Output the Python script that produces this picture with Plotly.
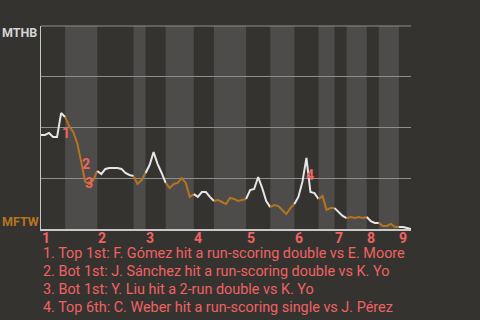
import plotly.graph_objects as go

away_team = "MTHB"
home_team = "MFTW"

# Away-team win probability (%) before the first PA, then after each PA per half-inning
start_wp = 46.3
half_innings = [
    [46.3, 47.3, 45.3, 45.3, 57.1, 55.2],                    # Top 1
    [50.7, 47.8, 42.4, 33.0, 23.2, 22.2, 24.1, 28.6],        # Bot 1
    [27.1, 29.6, 30.0, 30.0, 30.0, 29.6, 27.6, 26.6, 26.1],  # Top 2
    [22.2, 24.1, 27.6],                                      # Bot 2
    [31.5, 37.9, 32.0, 27.6, 22.7],                          # Top 3
    [20.2, 22.2, 22.7, 25.1, 22.7, 15.8, 17.2],              # Bot 3
    [15.8, 18.2, 18.2, 15.8, 13.8],                          # Top 4
    [14.3, 13.3, 12.3, 15.3, 14.8, 13.8, 14.3, 14.8],        # Bot 4
    [19.2, 19.7, 25.6, 20.2, 13.8, 10.8],                    # Top 5
    [11.8, 11.3, 9.4, 7.4, 10.3, 12.3],                      # Bot 5
    [15.8, 23.2, 35.0, 18.2, 17.7, 14.8],                    # Top 6
    [16.3, 9.4, 10.3, 10.3],                                 # Bot 6
    [8.4, 6.4, 5.4],                                         # Top 7
    [5.9, 5.4, 5.9, 5.4, 5.9],                               # Bot 7
    [3.9, 3.0, 3.0],                                         # Top 8
    [1.5, 1.5, 2.5, 1.0, 1.0],                               # Bot 8
    [1.0, 0.5, 0.0],                                         # Top 9
]
inning_labels = ["1", "2", "3", "4", "5", "6", "7", "8", "9"]

# Key events: marker label, position (PA index, win prob %), description
event_labels = ["1", "2", "3", "4"]
event_x = [6.1, 11.1, 11.9, 66.8]
event_y = [47.3, 32.0, 22.7, 26.6]
event_texts = [
    "1. Top 1st: F. Gómez hit a run-scoring double vs E. Moore",
    "2. Bot 1st: J. Sánchez hit a run-scoring double vs K. Yo",
    "3. Bot 1st: Y. Liu hit a 2-run double vs K. Yo",
    "4. Top 6th: C. Weber hit a run-scoring single vs J. Pérez",
]

BG = "#353330"
BAND = "#4d4c4a"
GRID = "#8e8e8e"
AXIS = "#c8c8c8"
AWAY_C = "#e6e6e6"
HOME_C = "#b5751f"
RED = "#f06262"
FONT = "Roboto"

ys = [start_wp]
bounds = [0]
for h in half_innings:
    ys.extend(h)
    bounds.append(bounds[-1] + len(h))
n = bounds[-1]

fig = go.Figure()
shapes = []
for k in range(len(half_innings)):
    i0, i1 = bounds[k], bounds[k + 1]
    color = AWAY_C if k % 2 == 0 else HOME_C
    fig.add_trace(go.Scatter(
        x=list(range(i0, i1 + 1)), y=ys[i0:i1 + 1], mode="lines",
        line=dict(color=color, width=2), cliponaxis=False,
        hoverinfo="skip", showlegend=False))
    if k % 2 == 1:
        shapes.append(dict(type="rect", xref="x", yref="paper", x0=i0, x1=i1,
                           y0=0, y1=1, fillcolor=BAND, line=dict(width=0),
                           layer="below"))
# top border line (same style as grid)
shapes.append(dict(type="line", xref="paper", yref="paper", x0=0, x1=1, y0=1, y1=1,
                   line=dict(color=GRID, width=1), layer="below"))

annotations = []
for lab, ex, ey in zip(event_labels, event_x, event_y):
    annotations.append(dict(x=ex, y=ey, xref="x", yref="y", text=lab,
                            showarrow=False,
                            font=dict(family=FONT, size=14, color=RED, weight="bold")))
# inning labels, left-aligned at the start of each inning
for k, lab in enumerate(inning_labels):
    annotations.append(dict(x=bounds[2 * k], y=-0.044, xref="x", yref="paper", text=lab,
                            xanchor="left", yanchor="middle", showarrow=False, xshift=-1.5,
                            font=dict(family=FONT, size=14, color=RED, weight="bold")))
annotations.append(dict(x=-0.11, y=0.966, xref="paper", yref="paper", text=away_team,
                        xanchor="left", yanchor="middle", showarrow=False,
                        font=dict(family=FONT, size=12.5, color="#d4d4d4", weight="bold")))
annotations.append(dict(x=-0.11, y=0.039, xref="paper", yref="paper", text=home_team,
                        xanchor="left", yanchor="middle", showarrow=False,
                        font=dict(family=FONT, size=12.5, color=HOME_C, weight="bold")))
for j, t in enumerate(event_texts):
    annotations.append(dict(x=0.0, y=-0.123 - j * 0.0887, xref="paper", yref="paper",
                            text=t, xanchor="left", yanchor="middle", showarrow=False,
                            font=dict(family=FONT, size=14.4, color=RED)))

fig.update_layout(
    width=480, height=320,
    margin=dict(l=41, r=69, t=26, b=91),
    paper_bgcolor=BG, plot_bgcolor=BG,
    shapes=shapes, annotations=annotations,
    xaxis=dict(range=[0, n], showgrid=False, zeroline=False,
               tickvals=[bounds[k] for k in range(0, len(half_innings), 2)],
               showticklabels=False, ticks="",
               showline=True, linecolor=AXIS, linewidth=2),
    yaxis=dict(range=[0, 100], tickvals=[25, 50, 75, 100], showticklabels=False,
               showgrid=True, gridcolor=GRID, gridwidth=1, zeroline=False,
               showline=True, linecolor=AXIS, linewidth=1, ticks=""),
)

fig.write_html("out.html")
